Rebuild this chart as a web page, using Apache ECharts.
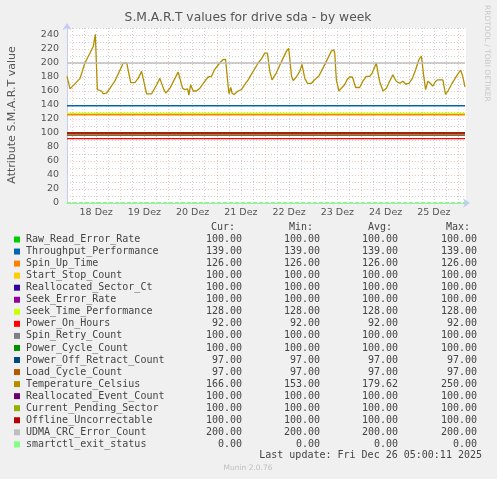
<!DOCTYPE html>
<html><head><meta charset="utf-8">
<script src="https://cdn.jsdelivr.net/npm/echarts@6/dist/echarts.min.js"></script>
<style>html,body{margin:0;padding:0;background:#f0f0f0;}#c{width:497px;height:479px;}</style>
</head><body><div id="c"></div>
<script>
const seriesNames = ['Raw_Read_Error_Rate','Throughput_Performance','Spin_Up_Time','Start_Stop_Count','Reallocated_Sector_Ct','Seek_Error_Rate','Seek_Time_Performance','Power_On_Hours','Spin_Retry_Count','Power_Cycle_Count','Power_Off_Retract_Count','Load_Cycle_Count','Temperature_Celsius','Reallocated_Event_Count','Current_Pending_Sector','Offline_Uncorrectable','UDMA_CRC_Error_Count','smartctl_exit_status'];
const seriesColors = ['#00CC00','#0066B3','#FF8000','#FFCC00','#330099','#990099','#CCFF00','#FF0000','#808080','#008F00','#00487D','#B35A00','#B38F00','#6B006B','#8FB300','#B30000','#BEBEBE','#80FF80'];
const curValues = [100,139,126,100,100,100,128,92,100,100,97,97,166,100,100,100,200,0];
const minValues = [100,139,126,100,100,100,128,92,100,100,97,97,153,100,100,100,200,0];
const avgValues = [100,139,126,100,100,100,128,92,100,100,97,97,179.62,100,100,100,200,0];
const maxValues = [100,139,126,100,100,100,128,92,100,100,97,97,250,100,100,100,200,0];
const temperatureIndex = 12;
// hours since 17 Dec 00:00
const tempHours = [21.5,23.0,28.0,30.4,32.9,34.6,35.6,36.6,38.7,39.5,41.2,45.3,49.5,51.2,53.2,55.3,56.9,58.6,59.4,61.1,63.6,66.1,67.7,68.6,69.7,70.7,72.7,75.2,76.8,77.7,79.0,80.1,81.5,82.1,83.0,84.3,85.9,87.6,90.1,91.7,93.4,95.0,97.5,99.2,100.4,101.6,102.1,103.0,103.6,104.6,106.6,108.3,109.9,111.6,114.1,116.6,118.2,119.9,121.2,122.4,123.5,125.7,128.2,130.7,131.8,133.2,134.0,135.6,137.3,138.4,139.8,141.1,143.1,144.7,146.7,148.9,151.3,153.0,154.2,154.7,155.5,156.8,158.0,159.6,160.8,162.1,163.5,165.1,167.1,168.7,170.4,172.1,173.4,175.4,176.2,177.0,178.7,180.4,182.0,183.6,185.3,187.0,188.6,190.0,191.6,193.3,194.9,196.6,197.8,198.9,199.9,201.0,202.2,203.5,204.9,206.0,208.5,209.8,211.0,212.7,215.2,217.3,218.2,219.5];
const tempValues = [181,163,178,200,214,224,241,162,160,156,157,174,200,200,172,172,178,188,187,156,156,169,178,180,162,157,164,178,187,187,164,162,163,154,169,160,160,164,174,180,181,191,200,205,205,169,156,165,157,155,160,162,169,176,188,200,206,214,214,188,176,186,202,217,221,181,175,180,188,198,178,171,171,176,181,193,207,217,219,214,176,160,164,169,176,180,180,165,165,174,181,181,186,200,186,174,160,164,174,183,174,171,174,170,171,178,190,205,210,183,162,174,171,167,174,176,176,155,160,169,181,190,183,166];
const xStartHour = 21.5, xEndHour = 220, dataEndHour = 219.5;
const dayLabels = ['18 Dez','19 Dez','20 Dez','21 Dez','22 Dez','23 Dez','24 Dez','25 Dez'];
const dayLabelHours = [36,60,84,108,132,156,180,204];
const midnightHours = [24,48,72,96,120,144,168,192,216];
const sixHourHours = [30,36,42,54,60,66,78,84,90,102,108,114,126,132,138,150,156,162,174,180,186,198,204,210];
const yMajorTicks = [0,20,40,60,80,100,120,140,160,180,200,220,240];
const yMinorTicks = [10,30,50,70,90,110,130,150,170,190,210,230,250];
const headerLabels = ['Cur:','Min:','Avg:','Max:'];
const lastUpdateText = 'Last update: Fri Dec 26 05:00:11 2025';

const chart = echarts.init(document.getElementById('c'), null, {renderer:'canvas'});
const axisColor = '#c4ccf2';
const majorGrid = {show:true, lineStyle:{color:'rgba(235,110,110,0.42)', width:1, type:[1,2]}};
const minorGrid = {show:true, lineStyle:{color:'#d0d0d0', width:1, type:[1,2]}};

const series = seriesNames.map((n,i)=>{
  let data;
  if (i === temperatureIndex) data = tempHours.map((h,k)=>[h,tempValues[k]]);
  else data = [[xStartHour,curValues[i]],[dataEndHour,curValues[i]]];
  return {
    name:n, type:'line', data, symbol:'none', silent:true, animation:false,
    xAxisIndex:0, yAxisIndex:0,
    lineStyle:{color:seriesColors[i], width: i===17?2:(i===temperatureIndex?1.3:1.4), type: i===17?[4,2]:'solid'},
    z: 2+i
  };
});

const fmt = v => v.toFixed(2);
const mono = '"DejaVu Sans Mono", monospace';
const graphics = [];
graphics.push({type:'text', x:248, y:18, style:{text:'S.M.A.R.T values for drive sda - by week', fill:'#555', font:'12.3px "DejaVu Sans"', textAlign:'center', textVerticalAlign:'middle'}});
graphics.push({type:'text', x:12, y:115, rotation:Math.PI/2, style:{text:'Attribute S.M.A.R.T value', fill:'#555', font:'11px "DejaVu Sans"', textAlign:'center', textVerticalAlign:'middle'}});
graphics.push({type:'text', x:487, y:5, rotation:-Math.PI/2, style:{text:'RRDTOOL / TOBI OETIKER', fill:'#c8c8c8', font:'7.5px "DejaVu Sans"', textAlign:'left', textVerticalAlign:'middle'}});
const headerX = [235,313,392,470];
const valX = [242,320,398,477];
headerLabels.forEach((h,j)=>graphics.push({type:'text', x:headerX[j], y:227.5, style:{text:h, fill:'#444', font:'10px '+mono, textAlign:'right', textVerticalAlign:'middle'}}));
seriesNames.forEach((n,i)=>{
  const y = 239.5 + 12.05*i;
  graphics.push({type:'rect', shape:{x:14, y:y-3, width:6, height:6}, style:{fill:seriesColors[i]}});
  graphics.push({type:'text', x:26, y, style:{text:n, fill:'#444', font:'10px '+mono, textAlign:'left', textVerticalAlign:'middle'}});
  [curValues,minValues,avgValues,maxValues].forEach((arr,j)=>{
    graphics.push({type:'text', x:valX[j], y, style:{text:fmt(arr[i]), fill:'#444', font:'10px '+mono, textAlign:'right', textVerticalAlign:'middle'}});
  });
});
graphics.push({type:'text', x:482, y:455.8, style:{text:lastUpdateText, fill:'#444', font:'10px '+mono, textAlign:'right', textVerticalAlign:'middle'}});
graphics.push({type:'text', x:248, y:468, style:{text:'Munin 2.0.76', fill:'#c0c0c0', font:'7.5px "DejaVu Sans"', textAlign:'center', textVerticalAlign:'middle'}});

chart.setOption({
  backgroundColor:'#f0f0f0',
  animation:false,
  grid:{left:67, right:31, top:28, bottom:276, show:true, backgroundColor:'#ffffff', borderWidth:0, containLabel:false, outerBoundsMode:'none'},
  xAxis:[
    {type:'value', min:xStartHour, max:xEndHour, position:'bottom',
     axisLine:{show:true, onZero:false, lineStyle:{color:axisColor, width:1}, symbol:['none','arrow'], symbolSize:[7,7], symbolOffset:[0,4]},
     axisTick:{show:false, customValues:midnightHours},
     splitLine:majorGrid,
     axisLabel:{show:true, customValues:dayLabelHours, margin:5, color:'#555', fontFamily:'DejaVu Sans', fontSize:9.5,
       formatter:(v)=>{const k=dayLabelHours.indexOf(v); return k>=0?dayLabels[k]:'';}}},
    {type:'value', min:xStartHour, max:xEndHour, position:'top',
     axisLine:{show:false}, axisTick:{show:false, customValues:sixHourHours}, axisLabel:{show:false},
     splitLine:minorGrid}
  ],
  yAxis:[
    {type:'value', min:0, max:250, position:'left',
     axisLine:{show:true, onZero:false, lineStyle:{color:axisColor, width:1}, symbol:['none','arrow'], symbolSize:[7,7], symbolOffset:[0,5]},
     axisTick:{show:false, customValues:yMajorTicks},
     splitLine:majorGrid,
     axisLabel:{show:true, customValues:yMajorTicks, margin:8, color:'#555', fontFamily:'DejaVu Sans', fontSize:9.5}},
    {type:'value', min:0, max:250, position:'right',
     axisLine:{show:false}, axisTick:{show:false, customValues:yMinorTicks}, axisLabel:{show:false},
     splitLine:minorGrid}
  ],
  series,
  graphic:graphics
});
</script></body></html>
